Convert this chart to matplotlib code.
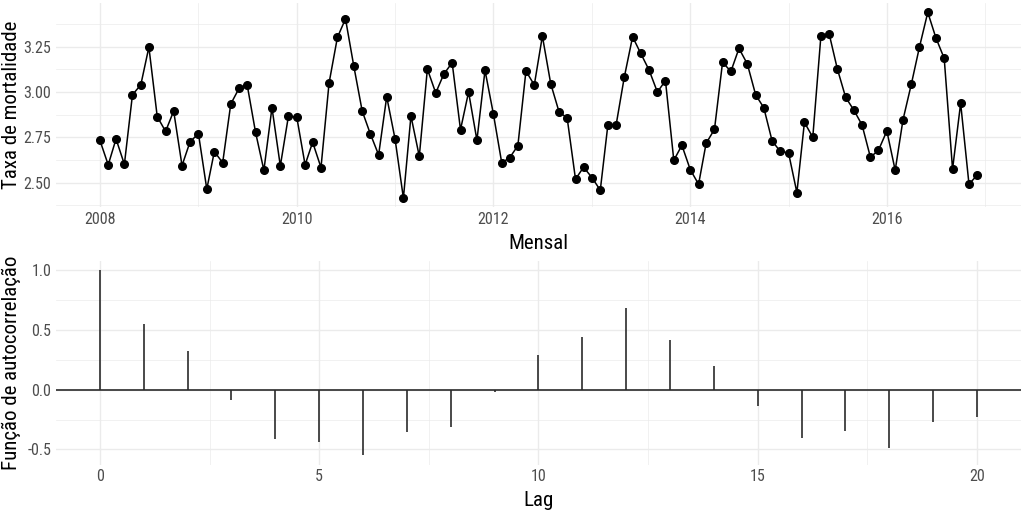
import numpy as np
import pandas as pd
import matplotlib
matplotlib.use('Agg')
import matplotlib.pyplot as plt
import matplotlib.dates as mdates
from matplotlib.ticker import MultipleLocator

plt.rcParams['font.family'] = ['Roboto Condensed', 'Liberation Sans', 'DejaVu Sans']

# Taxa de mortalidade mensal, jan/2008 a dez/2016
taxa = [
    2.734, 2.598, 2.741, 2.601, 2.985, 3.040, 3.248, 2.864, 2.783, 2.895, 2.594, 2.726,
    2.770, 2.464, 2.671, 2.610, 2.934, 3.021, 3.039, 2.778, 2.568, 2.914, 2.592, 2.866,
    2.862, 2.598, 2.723, 2.583, 3.050, 3.302, 3.404, 3.142, 2.895, 2.770, 2.653, 2.974,
    2.741, 2.414, 2.868, 2.645, 3.127, 2.995, 3.099, 3.162, 2.792, 3.000, 2.734, 3.120,
    2.880, 2.610, 2.636, 2.704, 3.116, 3.039, 3.309, 3.046, 2.890, 2.857, 2.519, 2.585,
    2.528, 2.458, 2.816, 2.820, 3.081, 3.305, 3.214, 3.122, 3.000, 3.063, 2.623, 2.706,
    2.572, 2.491, 2.717, 2.794, 3.164, 3.114, 3.241, 3.155, 2.984, 2.914, 2.730, 2.673,
    2.664, 2.445, 2.833, 2.750, 3.307, 3.320, 3.129, 2.971, 2.899, 2.818, 2.640, 2.679,
    2.785, 2.568, 2.847, 3.044, 3.248, 3.440, 3.300, 3.186, 2.574, 2.938, 2.491, 2.541,
]
datas = pd.date_range('2008-01-01', periods=len(taxa), freq='MS')

# Funcao de autocorrelacao, lags 0 a 20
lags = list(range(21))
acf = [1.0, 0.546, 0.32, -0.086, -0.412, -0.435, -0.549, -0.351, -0.315, -0.017,
       0.29, 0.437, 0.682, 0.412, 0.198, -0.134, -0.407, -0.345, -0.485, -0.273, -0.226]

grid_c = '#EBEBEB'
tick_c = '#4D4D4D'

fig = plt.figure(figsize=(10.24, 5.11), dpi=100)
ax1 = fig.add_axes([0.0547, 0.594, 0.9423, 0.400])
ax2 = fig.add_axes([0.0547, 0.0908, 0.9423, 0.3988])


def estilo(ax):
    for s in ax.spines.values():
        s.set_visible(False)
    ax.grid(True, which='major', color=grid_c, linewidth=1.0)
    ax.grid(True, which='minor', color=grid_c, linewidth=0.5)
    ax.set_axisbelow(True)
    ax.tick_params(which='both', length=0, labelsize=11.5, colors=tick_c, pad=3.5)
    ax.yaxis.set_label_coords(-0.036, 0.5)


# Painel superior
ax1.plot(datas, taxa, color='black', linewidth=1.1, marker='o', markersize=5.5)
ax1.xaxis.set_major_locator(mdates.YearLocator(2))
ax1.xaxis.set_minor_locator(mdates.YearLocator(1))
ax1.xaxis.set_major_formatter(mdates.DateFormatter('%Y'))
ax1.yaxis.set_major_locator(MultipleLocator(0.25))
ax1.yaxis.set_minor_locator(MultipleLocator(0.125))
ax1.yaxis.set_major_formatter(plt.FormatStrFormatter('%.2f'))
span = datas[-1] - datas[0]
ax1.set_xlim(datas[0] - span * 0.05, datas[-1] + span * 0.05)
r = max(taxa) - min(taxa)
ax1.set_ylim(min(taxa) - 0.05 * r, max(taxa) + 0.05 * r)
ax1.set_xlabel('Mensal', fontsize=15, labelpad=5)
ax1.set_ylabel('Taxa de mortalidade', fontsize=15)
estilo(ax1)

# Painel inferior
ax2.axhline(0, color='#2B2B2B', linewidth=1.2)
ax2.vlines(lags, 0, acf, color='#2B2B2B', linewidth=1.2)
ax2.xaxis.set_major_locator(MultipleLocator(5))
ax2.xaxis.set_minor_locator(MultipleLocator(2.5))
ax2.yaxis.set_major_locator(MultipleLocator(0.5))
ax2.yaxis.set_minor_locator(MultipleLocator(0.25))
ax2.yaxis.set_major_formatter(plt.FormatStrFormatter('%.1f'))
ax2.set_xlim(-1, 21)
r2 = max(acf) - min(acf)
ax2.set_ylim(min(acf) - 0.05 * r2, max(acf) + 0.05 * r2)
ax2.set_xlabel('Lag', fontsize=15, labelpad=5)
ax2.set_ylabel('Função de autocorrelação', fontsize=15)
estilo(ax2)

fig.savefig('out.png', dpi=100)
